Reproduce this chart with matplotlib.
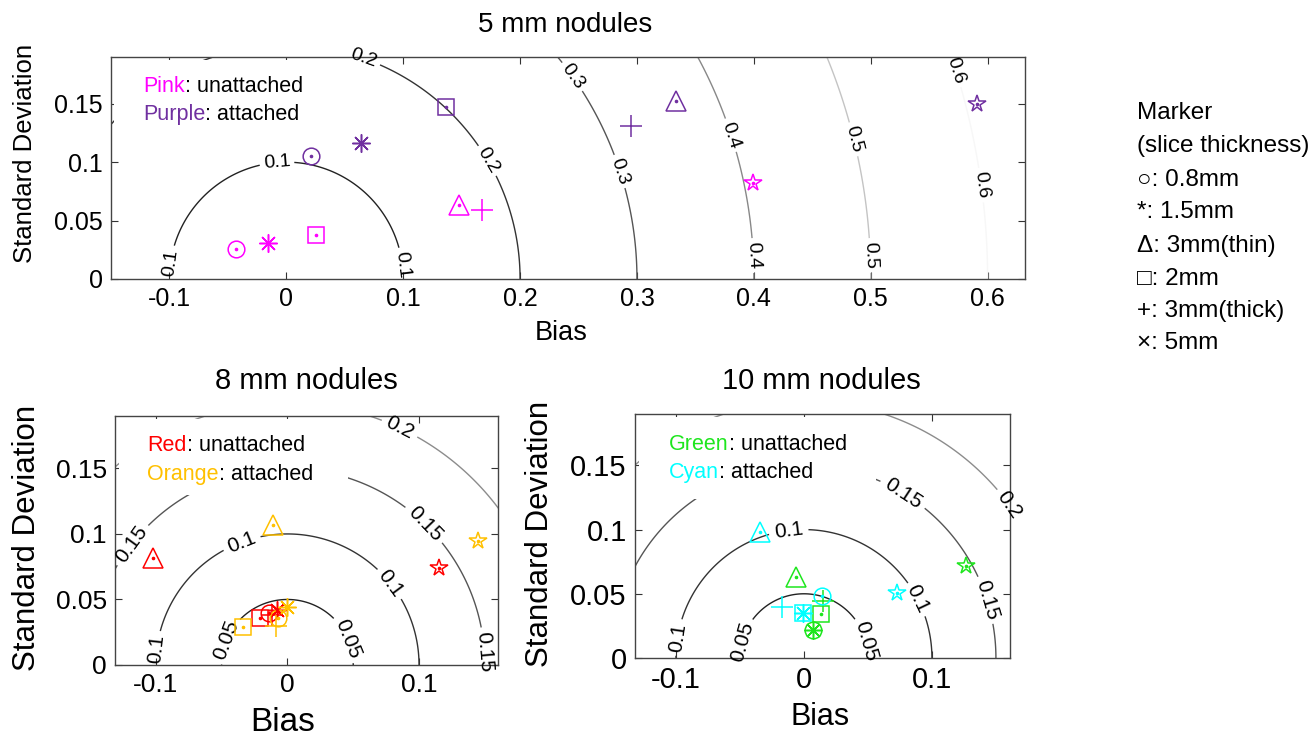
import numpy as np
import matplotlib
matplotlib.use("Agg")
import matplotlib.pyplot as plt
from matplotlib.patches import Rectangle

plt.rcParams['font.family'] = ['Liberation Sans', 'DejaVu Sans']

# ---------------- data ----------------
# marker order: 0.8mm, 1.5mm, 3mm(thin), 2mm, 3mm(thick), 5mm
slice_labels = ['0.8mm', '1.5mm', '3mm(thin)', '2mm', '3mm(thick)', '5mm']

# 5 mm nodules
pink_bias = [-0.043, -0.016, 0.148, 0.025, 0.167, 0.399]
pink_std = [0.026, 0.031, 0.063, 0.038, 0.059, 0.082]
purple_bias = [0.021, 0.064, 0.333, 0.137, 0.295, 0.591]
purple_std = [0.105, 0.116, 0.152, 0.147, 0.131, 0.150]

# 8 mm nodules
red_bias = [-0.014, -0.008, -0.102, -0.021, -0.012, 0.115]
red_std = [0.040, 0.042, 0.082, 0.036, 0.038, 0.074]
orange_bias = [-0.007, 0.000, -0.011, -0.034, -0.009, 0.145]
orange_std = [0.036, 0.044, 0.107, 0.029, 0.030, 0.095]

# 10 mm nodules
green_bias = [0.007, 0.007, -0.006, 0.013, 0.015, 0.127]
green_std = [0.022, 0.022, 0.063, 0.034, 0.044, 0.072]
cyan_bias = [0.014, -0.001, -0.034, -0.001, -0.017, 0.073]
cyan_std = [0.048, 0.035, 0.098, 0.035, 0.040, 0.051]

top_levels = [0.1, 0.2, 0.3, 0.4, 0.5, 0.6]
bottom_levels = [0.05, 0.1, 0.15, 0.2]

# ---------------- styles ----------------
PINK = '#ff00ff'
PURPLE = '#7030a0'
RED = '#ff0000'
ORANGE = '#ffc000'
GREEN = '#1ee61e'
CYAN = '#00ffff'

markers = ['o', (8, 2, 0), '^', 's', '+', '*']
msizes = [12, 13, 14, 11, 16, 13]

fig = plt.figure(figsize=(13.16, 7.39), dpi=100)
ax_top = fig.add_axes([111/1316, 1-279/739, 914/1316, 222/739])
ax_bl = fig.add_axes([115/1316, 1-665/739, 383/1316, 249/739])
ax_br = fig.add_axes([635/1316, 1-658/739, 375/1316, 244/739])


def draw_contours(ax, xlim, levels, colors, label_pos, fs):
    xs = np.linspace(xlim[0] - 0.02, xlim[1] + 0.02, 600)
    ys = np.linspace(0, 0.2, 300)
    X, Y = np.meshgrid(xs, ys)
    Z = np.hypot(X, Y)
    cs = ax.contour(X, Y, Z, levels=levels, colors=colors, linewidths=1.0)
    labels = ax.clabel(cs, inline=True, fontsize=fs, manual=label_pos,
                       fmt='%g', colors='black', inline_spacing=3)
    for t in labels:
        t.set_clip_on(False)
    return cs


def draw_points(ax, bias, std, color):
    for i in range(len(bias)):
        ax.plot(bias[i], std[i], linestyle='none', marker=markers[i],
                markersize=msizes[i], markerfacecolor='none',
                markeredgecolor=color, markeredgewidth=1.1, zorder=5)
        if markers[i] != '+':
            ax.plot(bias[i], std[i], linestyle='none', marker='o',
                    markersize=1.6, color=color, zorder=6)


def style_axes(ax, xlim, xticks, yticks, tick_fs):
    ax.set_xlim(*xlim)
    ax.set_ylim(0, 0.19)
    ax.set_xticks(xticks)
    ax.set_yticks(yticks)
    ax.set_xticklabels(['%g' % v for v in xticks])
    ax.set_yticklabels(['%g' % v for v in yticks])
    ax.tick_params(direction='in', top=True, right=True, length=5,
                   width=0.8, labelsize=tick_fs, pad=6, color='#333333')
    for s in ax.spines.values():
        s.set_color('#444444')
        s.set_linewidth(1.0)


def white_box(ax, x0, y0, x1, y1):
    ax.add_patch(Rectangle((x0, y0), x1 - x0, y1 - y0, transform=ax.transAxes,
                           facecolor='white', edgecolor='none', zorder=2.6))


def legend_text(ax, x, y, word, color, rest, fs):
    t1 = ax.text(x, y, word, color=color, fontsize=fs, transform=ax.transAxes,
                 ha='left', va='center', zorder=7)
    ax.annotate(rest, xy=(1, 0), xycoords=t1, ha='left', va='bottom',
                fontsize=fs, color='black', zorder=7)


# ---------- top panel ----------
xl_top = (-0.15, 0.632)
top_colors = ['#222222', '#333333', '#555555', '#888888', '#c4c4c4', '#f7f7f7']
top_label_pos = [(-0.008, 0.099), (-0.099, 0.014), (0.098, 0.012),
                 (0.065, 0.185), (0.17, 0.10),
                 (0.246, 0.174), (0.285, 0.092),
                 (0.377, 0.122), (0.398, 0.020),
                 (0.479, 0.118), (0.497, 0.020),
                 (0.571, 0.178), (0.592, 0.08)]
draw_contours(ax_top, xl_top, top_levels, top_colors, top_label_pos, 14)
white_box(ax_top, 0.003, (279-124)/222, 0.218, (279-60)/222)
draw_points(ax_top, pink_bias, pink_std, PINK)
draw_points(ax_top, purple_bias, purple_std, PURPLE)
style_axes(ax_top, xl_top, [-0.1, 0, 0.1, 0.2, 0.3, 0.4, 0.5, 0.6],
           [0, 0.05, 0.1, 0.15], 18)
ax_top.text(0.497, 1.144, '5 mm nodules', transform=ax_top.transAxes,
            ha='center', va='center', fontsize=20)
ax_top.text(0.493, -0.243, 'Bias', transform=ax_top.transAxes,
            ha='center', va='center', fontsize=19.5)
ax_top.text(-0.094, 0.567, 'Standard Deviation', transform=ax_top.transAxes,
            ha='center', va='center', fontsize=18.5, rotation=90)
legend_text(ax_top, 0.035, 0.865, 'Pink', PINK, ': unattached', 15.5)
legend_text(ax_top, 0.035, 0.739, 'Purple', PURPLE, ': attached', 15.5)

# ---------- bottom-left panel ----------
xl_bl = (-0.131, 0.16)
bot_colors = ['#222222', '#333333', '#555555', '#8c8c8c']
bl_label_pos = [(-0.047, 0.019), (0.044, 0.019),
                (-0.099, 0.012), (-0.035, 0.094), (0.078, 0.062),
                (-0.12, 0.093), (0.105, 0.108), (0.1495, 0.01),
                (0.085, 0.18)]
draw_contours(ax_bl, xl_bl, bottom_levels, bot_colors, bl_label_pos, 15)
white_box(ax_bl, (119-115)/383, (665-495)/249, (348-115)/383, (665-419)/249)
draw_points(ax_bl, red_bias, red_std, RED)
draw_points(ax_bl, orange_bias, orange_std, ORANGE)
style_axes(ax_bl, xl_bl, [-0.1, 0, 0.1], [0, 0.05, 0.1, 0.15], 19)
ax_bl.text(0.499, 1.14, '8 mm nodules', transform=ax_bl.transAxes,
           ha='center', va='center', fontsize=21)
ax_bl.text(0.439, -0.229, 'Bias', transform=ax_bl.transAxes,
           ha='center', va='center', fontsize=24)
ax_bl.text(-0.23, 0.51, 'Standard Deviation', transform=ax_bl.transAxes,
           ha='center', va='center', fontsize=22.5, rotation=90)
legend_text(ax_bl, 0.084, 0.88, 'Red', RED, ': unattached', 15.5)
legend_text(ax_bl, 0.084, 0.767, 'Orange', ORANGE, ': attached', 15.5)

# ---------- bottom-right panel ----------
xl_br = (-0.132, 0.161)
br_label_pos = [(-0.046, 0.012), (0.045, 0.012),
                (-0.012, 0.099), (-0.098, 0.016), (0.087, 0.045),
                (0.077, 0.127), (0.142, 0.045),
                (0.161, 0.12)]
draw_contours(ax_br, xl_br, bottom_levels, bot_colors, br_label_pos, 15)
white_box(ax_br, (639-635)/375, (658-499)/244, (876-635)/375, (658-417)/244)
draw_points(ax_br, green_bias, green_std, GREEN)
draw_points(ax_br, cyan_bias, cyan_std, CYAN)
style_axes(ax_br, xl_br, [-0.1, 0, 0.1], [0, 0.05, 0.1, 0.15], 21)
ax_br.text(0.496, 1.135, '10 mm nodules', transform=ax_br.transAxes,
           ha='center', va='center', fontsize=21)
ax_br.text(0.493, -0.242, 'Bias', transform=ax_br.transAxes,
           ha='center', va='center', fontsize=22)
ax_br.text(-0.253, 0.508, 'Standard Deviation', transform=ax_br.transAxes,
           ha='center', va='center', fontsize=22.5, rotation=90)
legend_text(ax_br, 0.091, 0.877, 'Green', GREEN, ': unattached', 15.5)
legend_text(ax_br, 0.091, 0.762, 'Cyan', CYAN, ': attached', 15.5)

# ---------- marker key ----------
key_lines = ['Marker', '(slice thickness)',
             '\u25cb: ' + slice_labels[0], '*: ' + slice_labels[1],
             '\u0394: ' + slice_labels[2], '\u25a1: ' + slice_labels[3],
             '+: ' + slice_labels[4], '\u00d7: ' + slice_labels[5]]
key_y = [113, 146, 180, 212, 246, 279, 311, 343]
for line, yy in zip(key_lines, key_y):
    fig.text(1137/1316, 1 - yy/739, line, ha='left', va='center', fontsize=17.5)

fig.savefig('out.png', dpi=100)
